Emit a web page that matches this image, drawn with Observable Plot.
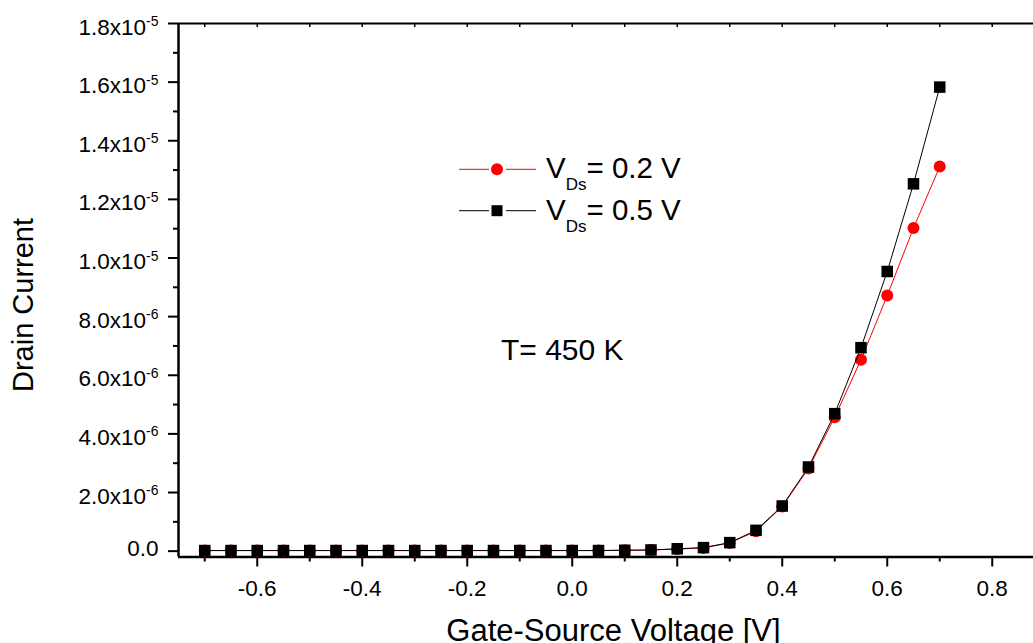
<!DOCTYPE html>
<html><head><meta charset="utf-8">
<script src="https://cdn.jsdelivr.net/npm/d3@7"></script>
<script src="https://cdn.jsdelivr.net/npm/@observablehq/plot@0.6"></script>
<style>
body{margin:0;background:#fff;overflow:hidden}
svg{font-family:Arial,"Liberation Sans",sans-serif}
</style>
</head><body><div id="chart"></div>
<script>
// Gate-source voltage [V]
const vgs = [-0.7,-0.65,-0.6,-0.55,-0.5,-0.45,-0.4,-0.35,-0.3,-0.25,-0.2,-0.15,-0.1,-0.05,0,0.05,0.1,0.15,0.2,0.25,0.3,0.35,0.4,0.45,0.5,0.55,0.6,0.65,0.7];
// Drain current in units of 1e-6 A
const idVds02 = [0.02,0.02,0.02,0.02,0.02,0.02,0.02,0.02,0.02,0.02,0.02,0.02,0.02,0.02,0.02,0.02,0.03,0.04,0.07,0.11,0.28,0.68,1.52,2.82,4.57,6.53,8.72,11.02,13.12];
const idVds05 = [0.02,0.02,0.02,0.02,0.02,0.02,0.02,0.02,0.02,0.02,0.02,0.02,0.02,0.02,0.02,0.02,0.03,0.04,0.08,0.12,0.29,0.71,1.54,2.87,4.69,6.94,9.54,12.53,15.83];
const xMajor = [-0.6,-0.4,-0.2,0,0.2,0.4,0.6,0.8];
const xMinor = [-0.7,-0.5,-0.3,-0.1,0.1,0.3,0.5,0.7];
const yMajor = [0,2,4,6,8,10,12,14,16,18];
const yMinor = [1,3,5,7,9,11,13,15,17];
const seriesLabels = ["0.2 V","0.5 V"];
const xTitle = "Gate-Source Voltage [V]";
const yTitle = "Drain Current";
const note = "T= 450 K";

const d02 = vgs.map((x,i)=>({x, y: idVds02[i]}));
const d05 = vgs.map((x,i)=>({x, y: idVds05[i]}));

function yFmt(v){
  if (v === 0) return "0.0";
  const e = Math.floor(Math.log10(v) + 1e-9) - 6;
  const m = v / Math.pow(10, e + 6);
  return m.toFixed(1) + "x10^" + e;
}

const plot = Plot.plot({
  width: 1033, height: 643,
  marginLeft: 178, marginRight: 0, marginTop: 23, marginBottom: 86.5,
  style: {fontFamily: "Arial, 'Liberation Sans', sans-serif", background: "#fff", color: "#000", overflow: "visible"},
  x: {domain: [-0.75, 0.8786], label: null},
  y: {domain: [-0.2, 18], label: null},
  marks: [
    Plot.axisX({ticks: xMajor, tickSize: 10, tickPadding: 13, strokeWidth: 2, fontSize: 22.5, tickFormat: d => d.toFixed(1), label: null}),
    Plot.axisX({ticks: xMinor, tickSize: 5, strokeWidth: 2, tickFormat: () => "", label: null}),
    Plot.tickX(xMajor.concat(xMinor), {x: d => d, insetBottom: 529.5, strokeWidth: 1.5}),
    Plot.axisY({ticks: yMajor, tickSize: 10, tickPadding: 10, strokeWidth: 2, fontSize: 22.5, tickFormat: yFmt, label: null}),
    Plot.axisY({ticks: yMinor, tickSize: 5, strokeWidth: 2, tickFormat: () => "", label: null}),
    Plot.ruleX([-0.75], {strokeWidth: 2.5}),
    Plot.ruleY([-0.2], {strokeWidth: 2.5}),
    Plot.ruleY([18], {strokeWidth: 2}),
    Plot.line(d02, {x: "x", y: "y", stroke: "#ff0000", strokeWidth: 1}),
    Plot.dot(d02, {x: "x", y: "y", r: 6, fill: "#ff0000", stroke: "none", symbol: "circle"}),
    Plot.line(d05, {x: "x", y: "y", stroke: "#000", strokeWidth: 1}),
    Plot.dot(d05, {x: "x", y: "y", r: 6.5, fill: "#000", stroke: "none", symbol: "square"})
  ]
});
document.getElementById("chart").append(plot);

const ns = "http://www.w3.org/2000/svg";
plot.querySelectorAll('g[aria-label="y-axis tick label"] text').forEach(t => {
  const s = t.textContent;
  if (!s) return;
  t.removeAttribute("dy");
  if (s.includes("^")) {
    const [m, e] = s.split("^");
    t.textContent = "";
    const a = document.createElementNS(ns, "tspan"); a.textContent = m;
    const b = document.createElementNS(ns, "tspan"); b.textContent = e;
    b.setAttribute("font-size", 14); b.setAttribute("dy", -8.5);
    t.append(a, b);
    t.setAttribute("y", 11);
  } else {
    t.setAttribute("y", 4.5);
  }
});

const svg = d3.select(plot);
// axis titles
svg.append("text").attr("transform", "translate(33.3,305) rotate(-90)")
  .attr("text-anchor", "middle").attr("font-size", 29).attr("fill", "#000").text(yTitle);
svg.append("text").attr("x", 613.5).attr("y", 640.5)
  .attr("text-anchor", "middle").attr("font-size", 31).attr("fill", "#000").text(xTitle);
// annotation
svg.append("text").attr("x", 501).attr("y", 360).attr("text-anchor", "start")
  .attr("font-size", 30).attr("fill", "#000").text(note);

// legend
const lg = svg.append("g");
const rows = [{y: 169.3, color: "#ff0000", sym: "circle", label: seriesLabels[0]},
              {y: 210.7, color: "#000", sym: "square", label: seriesLabels[1]}];
rows.forEach(r => {
  lg.append("line").attr("x1", 459).attr("x2", 489).attr("y1", r.y).attr("y2", r.y).attr("stroke", r.color).attr("stroke-width", 1);
  lg.append("line").attr("x1", 506).attr("x2", 536).attr("y1", r.y).attr("y2", r.y).attr("stroke", r.color).attr("stroke-width", 1);
  if (r.sym === "circle") lg.append("circle").attr("cx", 497).attr("cy", r.y).attr("r", 6).attr("fill", r.color);
  else lg.append("rect").attr("x", 491.5).attr("y", r.y - 5.5).attr("width", 11).attr("height", 11).attr("fill", r.color);
  const t = lg.append("text").attr("x", 546).attr("y", r.y + 9).attr("text-anchor", "start").attr("font-size", 29.5).attr("fill", "#000");
  t.append("tspan").text("V");
  t.append("tspan").attr("font-size", 17).attr("dy", 12).text("Ds");
  t.append("tspan").attr("dy", -12).text("= " + r.label);
});
</script>
</body></html>
